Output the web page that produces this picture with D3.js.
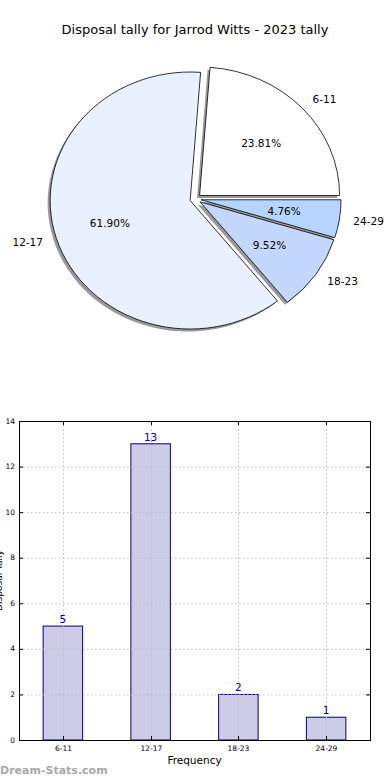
<!DOCTYPE html>
<html><head><meta charset="utf-8">
<script src="https://cdn.jsdelivr.net/npm/d3@7"></script>
<style>body{margin:0;background:#fff}svg{display:block;font-family:"DejaVu Sans",sans-serif}</style>
</head><body><svg id="c" width="390" height="780"></svg>
<script>
const title = "Disposal tally for Jarrod Witts - 2023 tally";
const categories = ["6-11","12-17","18-23","24-29"];
const counts = [5,13,2,1];
const pieColors = ["#ffffff","#eaf1fe","#c4d8ff","#b5d5ff"];
const yTicks = [0,2,4,6,8,10,12,14];
const xLabel = "Frequency";
const yLabel = "Disposal Tally";
const watermark = "Dream-Stats.com";

const svg = d3.select("#c");
svg.append("text").attr("x",195).attr("y",34).attr("text-anchor","middle")
  .attr("font-size",13).attr("fill","#000").text(title);

// ---- Pie (elliptical, matplotlib-like) ----
const cx=195.5, cy=199, rx=140, ry=128.5, ex=0.04;
const total = d3.sum(counts);
const pie = d3.pie().sort(null).startAngle(Math.PI/2).endAngle(Math.PI/2-2*Math.PI);
const arcs = pie(counts);
const arc = d3.arc().innerRadius(0).outerRadius(rx);
const g = svg.append("g");
function mid(a){ const m = (a.startAngle+a.endAngle)/2; return Math.PI/2 - m; }
function off(a){ const t=mid(a); return [ex*rx*Math.cos(t), -ex*ry*Math.sin(t)]; }
arcs.forEach(a=>{
  const [dx,dy]=off(a);
  g.append("path").attr("d",arc(a))
   .attr("transform",`translate(${cx+dx-2.5},${cy+dy+2.5}) scale(1,${ry/rx})`)
   .attr("fill","#000").attr("fill-opacity",0.4);
});
arcs.forEach((a,i)=>{
  const [dx,dy]=off(a);
  g.append("path").attr("d",arc(a))
   .attr("transform",`translate(${cx+dx},${cy+dy}) scale(1,${ry/rx})`)
   .attr("fill",pieColors[i]).attr("stroke","#000").attr("stroke-width",0.8)
   .attr("vector-effect","non-scaling-stroke");
});
arcs.forEach((a,i)=>{
  const [dx,dy]=off(a); const t=mid(a);
  const lx = cx+dx+1.1*rx*Math.cos(t), ly = cy+dy-1.1*ry*Math.sin(t);
  g.append("text").attr("x",lx).attr("y",ly).attr("dy","0.35em")
   .attr("text-anchor", Math.cos(t)>0?"start":"end").attr("font-size",10.5).text(categories[i]);
  const px = cx+dx+0.6*rx*Math.cos(t), py = cy+dy-0.6*ry*Math.sin(t);
  g.append("text").attr("x",px).attr("y",py).attr("dy","0.35em")
   .attr("text-anchor","middle").attr("font-size",10.5)
   .text((counts[i]/total*100).toFixed(2)+"%");
});

// ---- Bar chart ----
const L=19, R=370, T=421, B=740;
const x = d3.scaleBand().domain(categories).range([L,R]).paddingInner(0).paddingOuter(0);
const y = d3.scaleLinear().domain([0,14]).range([B,T]);
const bw = x.bandwidth()*0.45;
const b = svg.append("g");
b.selectAll("rect.bar").data(categories).join("rect").attr("class","bar")
 .attr("x",d=>x(d)+x.bandwidth()/2-bw/2).attr("width",bw)
 .attr("y",(d,i)=>y(counts[i])).attr("height",(d,i)=>B-y(counts[i]))
 .attr("fill","#ccccE6").attr("stroke","#000080").attr("stroke-width",1);
yTicks.slice(1,-1).forEach(v=>{
  b.append("line").attr("x1",L).attr("x2",R).attr("y1",y(v)+0.5).attr("y2",y(v)+0.5)
   .attr("stroke","#c0c0c0").attr("stroke-dasharray","1.5,2.5");
});
categories.forEach(c=>{
  const xc = Math.round(x(c)+x.bandwidth()/2)+0.5;
  b.append("line").attr("x1",xc).attr("x2",xc).attr("y1",T).attr("y2",B)
   .attr("stroke","#c0c0c0").attr("stroke-dasharray","1.5,2.5");
});
categories.forEach((c,i)=>{
  b.append("text").attr("x",x(c)+x.bandwidth()/2).attr("y",y(counts[i])-3)
   .attr("text-anchor","middle").attr("font-size",10.5).attr("fill","#00008b").text(counts[i]);
});
b.append("rect").attr("x",L+0.5).attr("y",T+0.5).attr("width",R-L).attr("height",B-T)
 .attr("fill","none").attr("stroke","#000").attr("stroke-width",1);
yTicks.forEach(v=>{
  b.append("line").attr("x1",L).attr("x2",L+4).attr("y1",y(v)+0.5).attr("y2",y(v)+0.5).attr("stroke","#000");
  b.append("line").attr("x1",R-4).attr("x2",R).attr("y1",y(v)+0.5).attr("y2",y(v)+0.5).attr("stroke","#000");
  b.append("text").attr("x",L-4).attr("y",y(v)).attr("dy","0.35em").attr("text-anchor","end")
   .attr("font-size",7.5).text(v);
});
categories.forEach(c=>{
  const xc = Math.round(x(c)+x.bandwidth()/2)+0.5;
  b.append("line").attr("x1",xc).attr("x2",xc).attr("y1",B-4).attr("y2",B).attr("stroke","#000");
  b.append("line").attr("x1",xc).attr("x2",xc).attr("y1",T).attr("y2",T+4).attr("stroke","#000");
  b.append("text").attr("x",xc).attr("y",B+11).attr("text-anchor","middle").attr("font-size",7.5).text(c);
});
b.append("text").attr("x",(L+R)/2).attr("y",764).attr("text-anchor","middle").attr("font-size",10.5).text(xLabel);
b.append("text").attr("transform",`translate(1.5,${(T+B)/2}) rotate(-90)`).attr("text-anchor","middle")
 .attr("font-size",9).text(yLabel);
svg.append("text").attr("x",0).attr("y",774).attr("font-size",11).attr("font-weight",600)
 .attr("fill","#a8a8a8").text(watermark);
</script></body></html>
